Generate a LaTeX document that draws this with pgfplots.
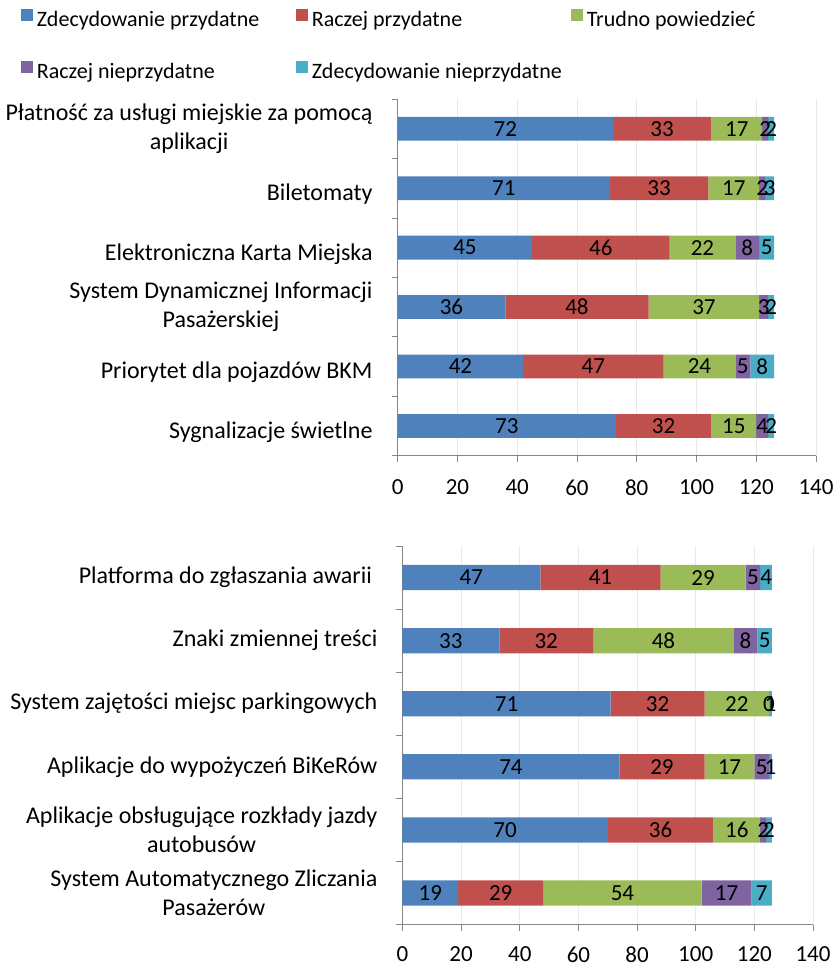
\documentclass[border=0pt]{standalone}
\usepackage{fontspec}
\setmainfont{Carlito}
\usepackage{pgfplots}
\pgfplotsset{compat=1.18}
\definecolor{c1}{HTML}{4F81BD}
\definecolor{c2}{HTML}{C0504D}
\definecolor{c3}{HTML}{9BBB59}
\definecolor{c4}{HTML}{8064A2}
\definecolor{c5}{HTML}{4BACC6}
\definecolor{axgray}{HTML}{868686}
\definecolor{gridgray}{HTML}{E8E8E8}
\newcommand{\bigf}{\fontsize{23}{28.5}\selectfont}
\newcommand{\labf}{\fontsize{24}{29}\selectfont}
\newcommand{\legf}{\fontsize{22}{27}\selectfont}
\pgfplotsset{
  mystyle/.style={
    scale only axis,
    xbar stacked,
    stacked ignores zero=false,
    bar width=0.4,
    xmin=0, xmax=140,
    ymin=-0.5, ymax=5.5,
    y dir=reverse,
    xtick={0,20,...,140},
    ytick={0,...,5},
    axis lines*=left,
    axis line style={axgray, line width=0.8pt},
    tick align=outside,
    major tick length=6pt,
    xtick style={axgray, line width=0.8pt},
    ytick style={draw=none},
    extra y ticks={-0.5,0.5,...,5.5},
    extra y tick labels={},
    extra y tick style={grid=none, ytick style={draw=axgray, line width=0.8pt}},
    xmajorgrids,
    grid style={gridgray, line width=0.8pt},
    /pgf/number format/assume math mode=true,
    tick label style={font=\bigf, black},
    yticklabel style={align=center, inner sep=0pt, xshift=-19pt, font=\labf},
    xticklabel style={inner sep=0pt, yshift=-18pt},
    point meta=explicit,
    nodes near coords,
    every node near coord/.append style={font=\bigf, black},
    every axis plot/.append style={draw=none},
    legend image code/.code={\fill[##1] (0pt,0.5pt) rectangle (12pt,12.5pt);},
  }
}
\begin{document}
\begin{tikzpicture}
\path[use as bounding box] (0pt,0pt) rectangle (836pt,-964pt);
% ---------------- top chart ----------------
\begin{axis}[mystyle,
  at={(397.7pt,-455.7pt)}, anchor=south west,
  width=418.3pt, height=356.7pt,
  yticklabels={
    {Płatność za usługi miejskie za pomocą\\aplikacji},
    {\mbox{}\\Biletomaty},
    {\mbox{}\\Elektroniczna Karta Miejska},
    {System Dynamicznej Informacji\\Pasażerskiej},
    {\mbox{}\\Priorytet dla pojazdów BKM},
    {\mbox{}\\Sygnalizacje świetlne}},
  legend columns=3,
  legend cell align=left,
  legend style={draw=none, fill=none, at={(-0.9013,1.2523)}, anchor=north west,
    inner sep=0pt, row sep=28.5pt, column sep=0pt, font=\legf,
    nodes={inner sep=0pt, text height=16pt, text depth=6pt},
    /tikz/every odd column/.append style={column sep=4pt}},
]
\addplot[fill=c1] coordinates {(72,0) [72] (71,1) [71] (45,2) [45] (36,3) [36] (42,4) [42] (73,5) [73]};
\addlegendentry{\makebox[259pt][l]{Zdecydowanie przydatne}}
\addplot[fill=c2] coordinates {(33,0) [33] (33,1) [33] (46,2) [46] (48,3) [48] (47,4) [47] (32,5) [32]};
\addlegendentry{\makebox[259pt][l]{Raczej przydatne}}
\addplot[fill=c3] coordinates {(17,0) [17] (17,1) [17] (22,2) [22] (37,3) [37] (24,4) [24] (15,5) [15]};
\addlegendentry{Trudno powiedzieć}
\addplot[fill=c4] coordinates {(2,0) [2] (2,1) [2] (8,2) [8] (3,3) [3] (5,4) [5] (4,5) [4]};
\addlegendentry{\makebox[259pt][l]{Raczej nieprzydatne}}
\addplot[fill=c5] coordinates {(2,0) [2] (3,1) [3] (5,2) [5] (2,3) [2] (8,4) [8] (2,5) [2]};
\addlegendentry{Zdecydowanie nieprzydatne}
\end{axis}
% ---------------- bottom chart ----------------
\begin{axis}[mystyle,
  at={(402.5pt,-924.5pt)}, anchor=south west,
  width=410.5pt, height=378.5pt,
  xticklabel style={yshift=2pt},
  yticklabels={
    {Platforma do zgłaszania awarii },
    {Znaki zmiennej treści},
    {System zajętości miejsc parkingowych},
    {Aplikacje do wypożyczeń BiKeRów},
    {Aplikacje obsługujące rozkłady jazdy\\autobusów},
    {System Automatycznego Zliczania\\Pasażerów}},
]
\addplot[fill=c1] coordinates {(47,0) [47] (33,1) [33] (71,2) [71] (74,3) [74] (70,4) [70] (19,5) [19]};
\addplot[fill=c2] coordinates {(41,0) [41] (32,1) [32] (32,2) [32] (29,3) [29] (36,4) [36] (29,5) [29]};
\addplot[fill=c3] coordinates {(29,0) [29] (48,1) [48] (22,2) [22] (17,3) [17] (16,4) [16] (54,5) [54]};
\addplot[fill=c4] coordinates {(5,0) [5] (8,1) [8] (0,2) [0] (5,3) [5] (2,4) [2] (17,5) [17]};
\addplot[fill=c5] coordinates {(4,0) [4] (5,1) [5] (1,2) [1] (1,3) [1] (2,4) [2] (7,5) [7]};
\end{axis}
\end{tikzpicture}
\end{document}
